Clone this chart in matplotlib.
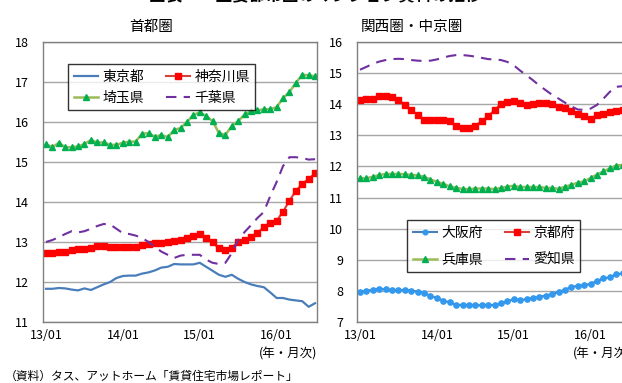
import matplotlib
matplotlib.use("Agg")
import matplotlib.pyplot as plt

plt.rcParams['font.family'] = ['Noto Sans CJK JP', 'DejaVu Sans']

# monthly series, 13/01 onward (円/㎡)
tokyo = [11.83, 11.83, 11.85, 11.84, 11.81, 11.79, 11.84, 11.80, 11.87, 11.94,
         12.00, 12.10, 12.15, 12.16, 12.16, 12.21, 12.24, 12.29, 12.36, 12.38,
         12.45, 12.44, 12.44, 12.44, 12.48, 12.38, 12.28, 12.18, 12.13, 12.18,
         12.08, 12.00, 11.94, 11.90, 11.87, 11.74, 11.60, 11.60, 11.56, 11.54,
         11.52, 11.38, 11.47]
kanagawa = [12.73, 12.73, 12.74, 12.74, 12.80, 12.83, 12.83, 12.84, 12.90, 12.90,
            12.87, 12.87, 12.87, 12.88, 12.88, 12.93, 12.96, 12.97, 12.97, 13.00,
            13.03, 13.05, 13.10, 13.14, 13.20, 13.10, 12.99, 12.84, 12.80, 12.86,
            13.00, 13.05, 13.12, 13.22, 13.38, 13.48, 13.53, 13.76, 14.03, 14.28,
            14.45, 14.58, 14.72]
saitama = [15.44, 15.37, 15.48, 15.37, 15.37, 15.39, 15.45, 15.55, 15.49, 15.49,
           15.43, 15.43, 15.48, 15.51, 15.51, 15.71, 15.72, 15.63, 15.68, 15.62,
           15.80, 15.85, 16.00, 16.18, 16.24, 16.15, 16.02, 15.72, 15.68, 15.90,
           16.02, 16.19, 16.27, 16.29, 16.32, 16.32, 16.37, 16.60, 16.75, 16.98,
           17.18, 17.17, 17.14]
chiba = [13.00, 13.05, 13.12, 13.20, 13.27, 13.24, 13.27, 13.33, 13.40, 13.45,
         13.44, 13.33, 13.22, 13.20, 13.16, 13.10, 13.00, 12.88, 12.76, 12.68,
         12.60, 12.66, 12.68, 12.68, 12.68, 12.56, 12.48, 12.45, 12.48, 12.72,
         13.05, 13.25, 13.42, 13.60, 13.75, 14.15, 14.50, 14.90, 15.12, 15.12,
         15.10, 15.06, 15.07]

osaka = [7.98, 8.00, 8.04, 8.07, 8.05, 8.03, 8.03, 8.03, 8.01, 7.98,
         7.94, 7.84, 7.77, 7.69, 7.63, 7.55, 7.55, 7.54, 7.54, 7.54,
         7.54, 7.55, 7.60, 7.66, 7.73, 7.71, 7.73, 7.77, 7.81, 7.85,
         7.90, 7.96, 8.04, 8.13, 8.16, 8.18, 8.23, 8.32, 8.40, 8.44,
         8.53, 8.56]
kyoto = [14.14, 14.16, 14.18, 14.27, 14.27, 14.23, 14.15, 13.98, 13.81, 13.66,
         13.49, 13.49, 13.49, 13.49, 13.46, 13.30, 13.22, 13.22, 13.31, 13.46,
         13.62, 13.81, 14.01, 14.07, 14.10, 14.03, 13.98, 14.01, 14.04, 14.04,
         14.00, 13.92, 13.87, 13.78, 13.68, 13.62, 13.53, 13.66, 13.70, 13.76,
         13.78, 13.82]
hyogo = [11.63, 11.62, 11.67, 11.72, 11.76, 11.76, 11.76, 11.75, 11.73, 11.71,
         11.67, 11.58, 11.51, 11.44, 11.36, 11.31, 11.28, 11.27, 11.29, 11.29,
         11.29, 11.27, 11.31, 11.35, 11.38, 11.34, 11.34, 11.34, 11.34, 11.31,
         11.31, 11.28, 11.35, 11.41, 11.48, 11.52, 11.63, 11.74, 11.84, 11.94,
         12.03, 12.05]
aichi = [15.11, 15.20, 15.30, 15.37, 15.42, 15.45, 15.46, 15.45, 15.42, 15.40,
         15.39, 15.40, 15.44, 15.50, 15.55, 15.58, 15.58, 15.56, 15.53, 15.49,
         15.45, 15.44, 15.42, 15.36, 15.25, 15.08, 14.93, 14.77, 14.60, 14.45,
         14.30, 14.18, 14.05, 13.93, 13.83, 13.82, 13.86, 13.98, 14.18, 14.40,
         14.56, 14.58]

xticks = [0, 12, 24, 36]
xlabels = ['13/01', '14/01', '15/01', '16/01']

BLUE = '#4a7ebb'
RED_LINE = '#d9403a'
RED = '#ff0000'
OLIVE = '#9bbb59'
GREEN = '#00b050'
PURPLE = '#7030a0'


def style_axes(ax, ylim):
    ax.set_xlim(-0.47, 42.3)
    ax.set_ylim(*ylim)
    ax.set_yticks(range(ylim[0], ylim[1] + 1))
    ax.set_xticks(xticks)
    ax.set_xticklabels(xlabels)
    ax.tick_params(length=0, labelsize=9, pad=5)
    ax.tick_params(axis='y', pad=10)
    ax.grid(axis='y', color='#a6a6a6', linewidth=1)
    ax.set_axisbelow(True)
    for s in ax.spines.values():
        s.set_color('#808080')
        s.set_linewidth(1)


def add_legend(ax, handles, labels, anchor, spacing):
    leg = ax.legend(handles, labels, ncol=2, loc='upper left',
                    bbox_to_anchor=anchor, fontsize=10, frameon=True,
                    fancybox=False, edgecolor='black', handlelength=1.75,
                    handletextpad=0.3, columnspacing=1.6,
                    labelspacing=spacing, borderpad=0.4, markerscale=0.9)
    leg.get_frame().set_linewidth(1)
    return leg


fig = plt.figure(figsize=(6.22, 3.83), dpi=100)

# 首都圏
ax1 = fig.add_axes([43 / 622, 61 / 383, 274 / 622, 280 / 383])
n1 = range(len(tokyo))
l_tokyo, = ax1.plot(n1, tokyo, color=BLUE, lw=1.6)
l_kana, = ax1.plot(n1, kanagawa, color=RED_LINE, lw=1.5, marker='s', ms=5,
                   mfc=RED, mec=RED)
l_sai, = ax1.plot(n1, saitama, color=OLIVE, lw=1.8, marker='^', ms=4.5,
                  mfc=GREEN, mec=GREEN)
l_chiba, = ax1.plot(n1, chiba, color=PURPLE, lw=1.5, ls=(0, (5, 3.5)))
style_axes(ax1, (11, 18))
add_legend(ax1, [l_tokyo, l_sai, l_kana, l_chiba],
           ['東京都', '埼玉県', '神奈川県', '千葉県'], (0.066, 0.946), 0.5)

# 関西圏・中京圏
ax2 = fig.add_axes([357 / 622, 61 / 383, 274 / 622, 280 / 383])
n2 = range(len(osaka))
l_osaka, = ax2.plot(n2, osaka, color=BLUE, lw=1.5, marker='o', ms=3.8,
                    mfc='#3399ee', mec='#3399ee')
l_kyoto, = ax2.plot(n2, kyoto, color=RED_LINE, lw=1.5, marker='s', ms=5,
                    mfc=RED, mec=RED)
l_hyogo, = ax2.plot(n2, hyogo, color=OLIVE, lw=1.8, marker='^', ms=4.5,
                    mfc=GREEN, mec=GREEN)
l_aichi, = ax2.plot(n2, aichi, color=PURPLE, lw=1.5, ls=(0, (5, 3.5)))
style_axes(ax2, (7, 16))
add_legend(ax2, [l_osaka, l_hyogo, l_kyoto, l_aichi],
           ['大阪府', '兵庫県', '京都府', '愛知県'], (0.157, 0.389), 0.95)

fig.text(151 / 622, 1 - 27 / 383, '首都圏', ha='center', va='center', fontsize=10.5)
fig.text(412 / 622, 1 - 27 / 383, '関西圏・中京圏', ha='center', va='center',
         fontsize=10.5)
fig.text(315 / 622, 1 - 1.5 / 383, '図表－　主要都市圏のマンション賃料の推移',
         ha='center', va='baseline', fontsize=12, fontweight='bold')

ax1.text(1.0, -0.115, '(年・月次)', transform=ax1.transAxes, ha='right',
         va='center', fontsize=9)
ax2.text(1.0, -0.115, '(年・月次)', transform=ax2.transAxes, ha='right',
         va='center', fontsize=9)
fig.text(5 / 622, 1 - 376 / 383, '（資料）タス、アットホーム「賃貸住宅市場レポート」',
         ha='left', va='center', fontsize=8.5)

fig.savefig('out.png', dpi=100)
